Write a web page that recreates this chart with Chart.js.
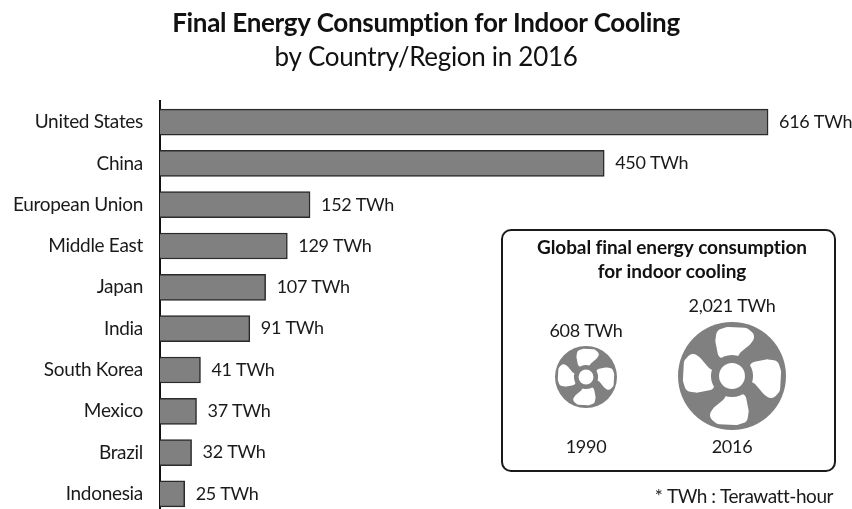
<!DOCTYPE html>
<html>
<head>
<meta charset="utf-8">
<script src="https://cdn.jsdelivr.net/npm/chart.js@4/dist/chart.umd.min.js"></script>
<style>
  html, body { margin: 0; padding: 0; background: #fff; overflow: hidden; height: 509px; }
  canvas { display: block; }
</style>
</head>
<body>
<canvas id="energyChart" width="852" height="543"></canvas>
<script>
const FONT = 'Lato, sans-serif';

const countries = ['United States', 'China', 'European Union', 'Middle East', 'Japan', 'India', 'South Korea', 'Mexico', 'Brazil', 'Indonesia'];
const consumption = [616, 450, 152, 129, 107, 91, 41, 37, 32, 25];
const unit = 'TWh';

const boxTitle = ['Global final energy consumption', 'for indoor cooling'];
const globalYears = ['1990', '2016'];
const globalLabels = ['608 TWh', '2,021 TWh'];
const footnote = '* TWh : Terawatt-hour';

// one fan blade, unit circle coords, other three are rotations of it
const blade = [[-.25, -.34], [-.31, -.65], [-.28, -.85], [-.09, -.91], [.28, -.89], [.45, -.74], [.34, -.59], [.15, -.43], [.06, -.28]];

function drawFan(ctx, cx, cy, r) {
  ctx.save();
  ctx.translate(cx, cy);
  ctx.fillStyle = '#808080';
  ctx.beginPath();
  ctx.arc(0, 0, r, 0, Math.PI * 2);
  ctx.fill();
  ctx.fillStyle = '#fff';
  for (let k = 0; k < 4; k++) {
    ctx.save();
    ctx.rotate(k * Math.PI / 2);
    ctx.beginPath();
    const n = blade.length;
    ctx.moveTo((blade[n - 1][0] + blade[0][0]) / 2 * r, (blade[n - 1][1] + blade[0][1]) / 2 * r);
    for (let i = 0; i < n; i++) {
      const p = blade[i], q = blade[(i + 1) % n];
      ctx.arcTo(p[0] * r, p[1] * r, (p[0] + q[0]) / 2 * r, (p[1] + q[1]) / 2 * r, r * 0.12);
    }
    ctx.closePath();
    ctx.fill();
    ctx.restore();
  }
  ctx.fillStyle = '#808080';
  ctx.beginPath();
  ctx.arc(0, 0, r * 0.39, 0, Math.PI * 2);
  ctx.fill();
  ctx.fillStyle = '#fff';
  ctx.beginPath();
  ctx.arc(0, 0, r * 0.24, 0, Math.PI * 2);
  ctx.fill();
  ctx.restore();
}

// tighter text everywhere, also stops the Lato "ti" ligature in the title
const tightText = {
  id: 'tightText',
  beforeDraw(chart) {
    chart.ctx.letterSpacing = '-0.3px';
  }
};

// "616 TWh" at the end of each bar
const valueLabels = {
  id: 'valueLabels',
  afterDatasetsDraw(chart) {
    const ctx = chart.ctx;
    const meta = chart.getDatasetMeta(0);
    ctx.save();
    ctx.font = '18px ' + FONT;
    ctx.fillStyle = '#1a1a1a';
    ctx.textBaseline = 'middle';
    meta.data.forEach((bar, i) => {
      ctx.fillText(consumption[i] + ' ' + unit, bar.x + 11, bar.y);
    });
    ctx.restore();
  }
};

// the rounded box with the two fans, plus the footnote
const insetBox = {
  id: 'insetBox',
  afterDraw(chart) {
    const ctx = chart.ctx;
    ctx.save();
    ctx.fillStyle = '#fff';
    ctx.strokeStyle = '#1a1a1a';
    ctx.lineWidth = 2;
    ctx.beginPath();
    ctx.roundRect(502, 230, 333, 241, 9);
    ctx.fill();
    ctx.stroke();

    ctx.textAlign = 'center';
    ctx.textBaseline = 'middle';
    ctx.fillStyle = '#111';
    ctx.font = '700 19px ' + FONT;
    ctx.letterSpacing = '-0.1px';
    ctx.fillText(boxTitle[0], 672, 248);
    ctx.fillText(boxTitle[1], 672, 272);

    ctx.font = '18px ' + FONT;
    ctx.letterSpacing = '-0.3px';
    ctx.fillStyle = '#1a1a1a';
    ctx.fillText(globalLabels[0], 586, 331);
    ctx.fillText(globalLabels[1], 732, 306);
    ctx.fillText(globalYears[0], 586, 447);
    ctx.fillText(globalYears[1], 732, 447);

    drawFan(ctx, 586, 377, 31);
    drawFan(ctx, 732, 376, 54);

    ctx.textAlign = 'right';
    ctx.font = '19px ' + FONT;
    ctx.letterSpacing = '-0.45px';
    ctx.fillText(footnote, 833, 497);
    ctx.restore();
  }
};

new Chart(document.getElementById('energyChart'), {
  type: 'bar',
  data: {
    labels: countries,
    datasets: [{
      data: consumption,
      backgroundColor: '#808080',
      borderColor: '#2a2a2a',
      borderWidth: 1.5,
      barThickness: 26
    }]
  },
  plugins: [tightText, valueLabels, insetBox],
  options: {
    indexAxis: 'y',
    responsive: false,
    animation: false,
    scales: {
      x: { display: false, min: 0, max: 701 },
      y: {
        afterFit(scale) { scale.width = 160; },
        grid: { drawOnChartArea: false, drawTicks: false },
        border: { color: '#111', width: 2 },
        ticks: { padding: 17, color: '#1a1a1a', font: { family: FONT, size: 19 } }
      }
    },
    plugins: {
      legend: { display: false },
      tooltip: { enabled: false },
      title: {
        display: true,
        text: 'Final Energy Consumption for Indoor Cooling',
        color: '#111',
        font: { family: FONT, size: 26, weight: '700' },
        padding: { top: 8, bottom: 3 }
      },
      subtitle: {
        display: true,
        text: 'by Country/Region in 2016',
        color: '#111',
        font: { family: FONT, size: 26, weight: '400' },
        padding: { top: 0, bottom: 28 }
      }
    }
  }
});
</script>
</body>
</html>
